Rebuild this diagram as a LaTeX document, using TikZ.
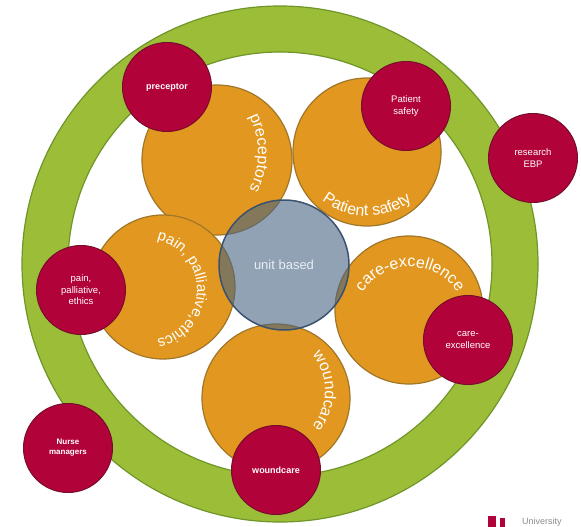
\documentclass[tikz,border=0pt]{standalone}
\usepackage{fontspec}
\setsansfont{Liberation Sans}
\usetikzlibrary{decorations.text}
\definecolor{ringgreen}{RGB}{156,189,56}
\definecolor{ringedge}{RGB}{112,150,42}
\definecolor{topicorange}{RGB}{226,152,32}
\definecolor{topicedge}{RGB}{160,118,40}
\definecolor{leadred}{RGB}{178,2,58}
\definecolor{leadedge}{RGB}{118,14,44}
\definecolor{hubgray}{RGB}{70,100,130}
\definecolor{hubedge}{RGB}{58,82,112}
\definecolor{hubtext}{RGB}{232,238,244}
\newcommand\arcfont{\sffamily\fontsize{16}{16}\selectfont}
\newcommand\smallarcfont{\sffamily\fontsize{15}{15}\selectfont}
\tikzset{
    ring/.style={fill=ringgreen, draw=ringedge, line width=1.2pt, even odd rule},
    topic/.style={circle, fill=topicorange, draw=topicedge, line width=1.2pt,
        minimum size=#1, inner sep=0pt},
    hub/.style={circle, fill=hubgray, fill opacity=0.6, text opacity=1,
        draw=hubedge, line width=1.5pt, minimum size=130pt, inner sep=0pt,
        text=hubtext, font=\sffamily\fontsize{13}{13}\selectfont},
    lead/.style={circle, fill=leadred, draw=leadedge, line width=1pt,
        minimum size=89pt, inner sep=0pt, text=white, align=center,
        font=\sffamily\fontsize{9.5}{11.5}\selectfont},
    leadbold/.style={lead, font=\sffamily\bfseries\fontsize{9}{11}\selectfont},
    arctext/.style={decorate, decoration={text along path, text align=center,
        text color=white, text={|\arcfont|#1}}},
    smallarctext/.style={decorate, decoration={text along path, text align=center,
        text color=white, text={|\smallarcfont|#1}}},
}

\begin{document}
\begin{tikzpicture}[x=1pt, y=1pt]
\useasboundingbox (0,0) rectangle (581,-527);
% outer green ring
\coordinate (ringc) at (280,-264);
\draw[ring] (ringc) circle[radius=258pt] (ringc) circle[radius=212pt];
% unit topics
\node[topic=150pt] (ordPrec) at (217,-160) {};
\node[topic=148pt] (ordSafe) at (367,-152) {};
\node[topic=144pt] (ordPain) at (163,-287) {};
\node[topic=148pt] (ordCare) at (409,-310) {};
\node[topic=148pt] (ordWound) at (276,-398) {};
\coordinate (arcPrec) at (178,-153);
\coordinate (arcSafe) at (367,-143);
\coordinate (arcPain) at (146,-290);
\coordinate (arcCare) at (410,-324);
\coordinate (arcWound) at (268,-391);
\path[arctext={preceptors}] ([shift={(45:80pt)}]arcPrec) arc[start angle=45, end angle=-45, radius=80pt];
\path[arctext={Patient safety}] ([shift={(210:73pt)}]arcSafe) arc[start angle=210, end angle=330, radius=73pt];
\path[smallarctext={pain, palliative,ethics}] ([shift={(110:51pt)}]arcPain) arc[start angle=110, end angle=-110, radius=51pt];
\path[arctext={care-excellence}] ([shift={(160:57pt)}]arcCare) arc[start angle=160, end angle=20, radius=57pt];
\path[arctext={woundcare}] ([shift={(60:57pt)}]arcWound) arc[start angle=60, end angle=-60, radius=57pt];
% centre
\node[hub] (unit) at (284,-265) {unit based};
% leads on the ring
\node[leadbold] (ldPrec) at (167,-87) {preceptor};
\node[lead] (ldSafe) at (406,-106) {Patient\\safety};
\node[lead] (ldResearch) at (533,-158) {research\\EBP};
\node[lead] (ldPain) at (81,-290) {pain,\\palliative,\\ethics};
\node[lead] (ldCare) at (468,-340) {care-\\excellence};
\node[leadbold] (ldWound) at (276,-470) {woundcare};
\node[leadbold, font=\sffamily\bfseries\fontsize{8}{10}\selectfont] (ldNurse) at (68,-448) {Nurse\\managers};
% logo corner
\fill[leadred] (488,-516) rectangle (496,-527);
\fill[leadred] (500,-518) rectangle (505,-527);
\node[anchor=base west, inner sep=0pt, text=black!45, font=\sffamily\fontsize{9}{9}\selectfont] (uni) at (522,-524) {University};
\end{tikzpicture}
\end{document}
